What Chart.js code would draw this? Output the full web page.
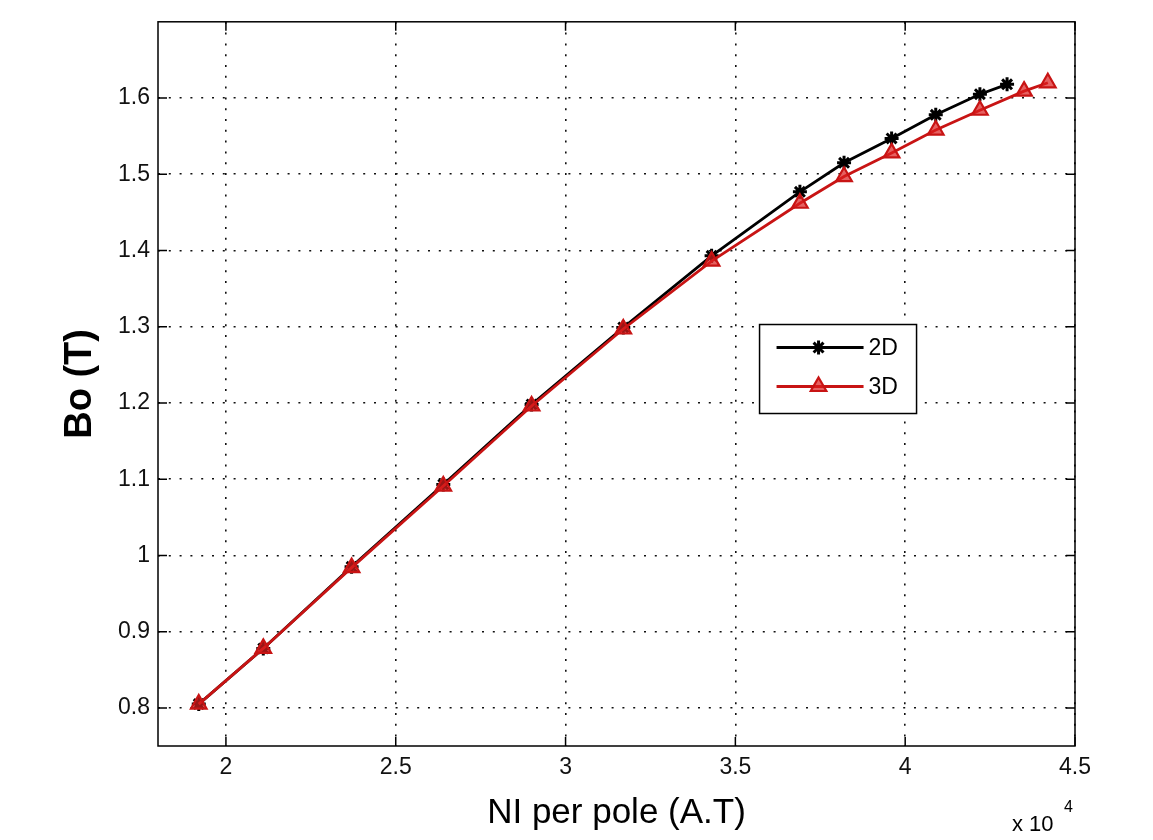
<!DOCTYPE html>
<html>

<head>
    <title>Bo vs NI per pole</title>
    <script src="https://cdn.jsdelivr.net/npm/chart.js@4.4.0/dist/chart.umd.min.js"></script>
    <style>
        body { margin: 0; background: #fff; }
    </style>
</head>

<body>
    <canvas id="myChart" width="1153" height="840"></canvas>
    <script>
        // NI per pole (A.T) and airgap flux density Bo (T)
        var ni2D = [19200, 21100, 23700, 26400, 29000, 31700, 34300, 36900, 38200, 39600, 40900, 42200, 43000];
        var bo2D = [0.805, 0.878, 0.985, 1.093, 1.198, 1.299, 1.393, 1.477, 1.515, 1.547, 1.578, 1.605, 1.618];
        var ni3D = [19200, 21100, 23700, 26400, 29000, 31700, 34300, 36900, 38200, 39600, 40900, 42200, 43500, 44200];
        var bo3D = [0.805, 0.878, 0.984, 1.091, 1.196, 1.297, 1.386, 1.462, 1.497, 1.528, 1.558, 1.584, 1.609, 1.620];
        var xTicks = [20000, 25000, 30000, 35000, 40000, 45000];
        var yTicks = [0.8, 0.9, 1.0, 1.1, 1.2, 1.3, 1.4, 1.5, 1.6];
        var seriesLabels = ['2D', '3D'];

        function toPoints(xs, ys) {
            var pts = [];
            for (var i = 0; i < xs.length; i++) {
                pts.push({ x: xs[i], y: ys[i] });
            }
            return pts;
        }

        var FONT = "'Liberation Sans', Arial, sans-serif";

        // box, inward ticks, legend and the x10^4 multiplier, matlab style
        var matlabAxes = {
            id: 'matlabAxes',
            beforeDatasetsDraw: function (chart) {
                var ctx = chart.ctx, ca = chart.chartArea;
                var xs = chart.scales.x, ys = chart.scales.y;
                var len = 9;
                ctx.save();
                ctx.strokeStyle = '#000';
                ctx.lineWidth = 1.5;
                ctx.strokeRect(ca.left, ca.top, ca.right - ca.left, ca.bottom - ca.top);
                ctx.beginPath();
                xTicks.forEach(function (v) {
                    var px = xs.getPixelForValue(v);
                    ctx.moveTo(px, ca.bottom); ctx.lineTo(px, ca.bottom - len);
                    ctx.moveTo(px, ca.top); ctx.lineTo(px, ca.top + len);
                });
                yTicks.forEach(function (v) {
                    var py = ys.getPixelForValue(v);
                    ctx.moveTo(ca.left, py); ctx.lineTo(ca.left + len, py);
                    ctx.moveTo(ca.right, py); ctx.lineTo(ca.right - len, py);
                });
                ctx.stroke();
                ctx.restore();
            },
            afterDraw: function (chart) {
                var ctx = chart.ctx, ca = chart.chartArea;
                var w = ca.right - ca.left, h = ca.bottom - ca.top;
                var bx = ca.left + 0.656 * w, by = ca.top + 0.418 * h;
                ctx.save();
                ctx.fillStyle = '#fff';
                ctx.fillRect(bx, by, 157, 89);
                ctx.strokeStyle = '#000';
                ctx.lineWidth = 1.5;
                ctx.strokeRect(bx, by, 157, 89);
                [1, 0].forEach(function (di, row) {
                    var ds = chart.data.datasets[di];
                    var ly = by + 23 + row * 39;
                    ctx.strokeStyle = ds.borderColor;
                    ctx.lineWidth = ds.borderWidth;
                    ctx.beginPath();
                    ctx.moveTo(bx + 17, ly); ctx.lineTo(bx + 104, ly);
                    ctx.stroke();
                    ctx.fillStyle = ds.pointBackgroundColor;
                    ctx.strokeStyle = ds.pointBorderColor;
                    ctx.lineWidth = ds.pointBorderWidth;
                    Chart.helpers.drawPoint(ctx, {
                        pointStyle: ds.pointStyle, radius: ds.pointRadius,
                        rotation: 0, borderWidth: ds.pointBorderWidth
                    }, bx + 59, ly);
                    ctx.fillStyle = '#000';
                    ctx.font = '23px ' + FONT;
                    ctx.textBaseline = 'middle';
                    ctx.textAlign = 'left';
                    ctx.fillText(ds.label, bx + 109, ly + 1);
                });
                // axis multiplier
                ctx.fillStyle = '#000';
                ctx.textBaseline = 'alphabetic';
                ctx.font = '22px ' + FONT;
                ctx.fillText('x 10', ca.right - 63, 831);
                ctx.font = '16px ' + FONT;
                ctx.fillText('4', ca.right - 11, 812);
                ctx.restore();
            }
        };

        var ctx = document.getElementById('myChart').getContext('2d');
        var chart = new Chart(ctx, {
            type: 'scatter',
            data: {
                datasets: [{
                    label: seriesLabels[1],
                    data: toPoints(ni3D, bo3D),
                    showLine: true,
                    borderColor: '#c81414',
                    borderWidth: 2.8,
                    pointStyle: 'triangle',
                    pointRadius: 9,
                    pointBackgroundColor: 'rgba(220, 30, 30, 0.7)',
                    pointBorderColor: '#c81414',
                    pointBorderWidth: 2.2,
                    order: 0
                }, {
                    label: seriesLabels[0],
                    data: toPoints(ni2D, bo2D),
                    showLine: true,
                    borderColor: '#000',
                    borderWidth: 2.8,
                    pointStyle: 'star',
                    pointRadius: 7,
                    pointBackgroundColor: '#000',
                    pointBorderColor: '#000',
                    pointBorderWidth: 3,
                    order: 1
                }]
            },
            options: {
                responsive: false,
                animation: false,
                layout: { padding: { left: 54, right: 78, top: 18, bottom: 4 } },
                plugins: {
                    legend: { display: false },
                    tooltip: { enabled: false }
                },
                scales: {
                    x: {
                        type: 'linear',
                        min: 18000,
                        max: 45000,
                        afterBuildTicks: function (scale) {
                            scale.ticks = xTicks.map(function (v) { return { value: v }; });
                        },
                        afterFit: function (scale) { scale.height = 90; },
                        border: { display: false, dash: [2, 8.8] },
                        grid: { color: '#111', lineWidth: 1.6, drawTicks: false },
                        ticks: {
                            padding: 8,
                            color: '#111',
                            font: { family: FONT, size: 23 },
                            callback: function (v) { return String(v / 10000); }
                        },
                        title: {
                            display: true,
                            text: 'NI per pole (A.T)',
                            color: '#000',
                            font: { family: FONT, size: 35 },
                            padding: { top: 2, bottom: 2 }
                        }
                    },
                    y: {
                        type: 'linear',
                        min: 0.75,
                        max: 1.7,
                        afterBuildTicks: function (scale) {
                            scale.ticks = yTicks.map(function (v) { return { value: v }; });
                        },
                        afterFit: function (scale) { scale.width = 104; },
                        border: { display: false, dash: [2, 8.8] },
                        grid: { color: '#111', lineWidth: 1.6, drawTicks: false },
                        ticks: {
                            padding: 8,
                            color: '#111',
                            font: { family: FONT, size: 23 },
                            callback: function (v) { return String(Math.round(v * 10) / 10); }
                        },
                        title: {
                            display: true,
                            text: 'Bo (T)',
                            color: '#000',
                            font: { family: FONT, size: 38, weight: 'bold' },
                            padding: { top: 4, bottom: 4 }
                        }
                    }
                }
            },
            plugins: [matlabAxes]
        });
    </script>
</body>

</html>
